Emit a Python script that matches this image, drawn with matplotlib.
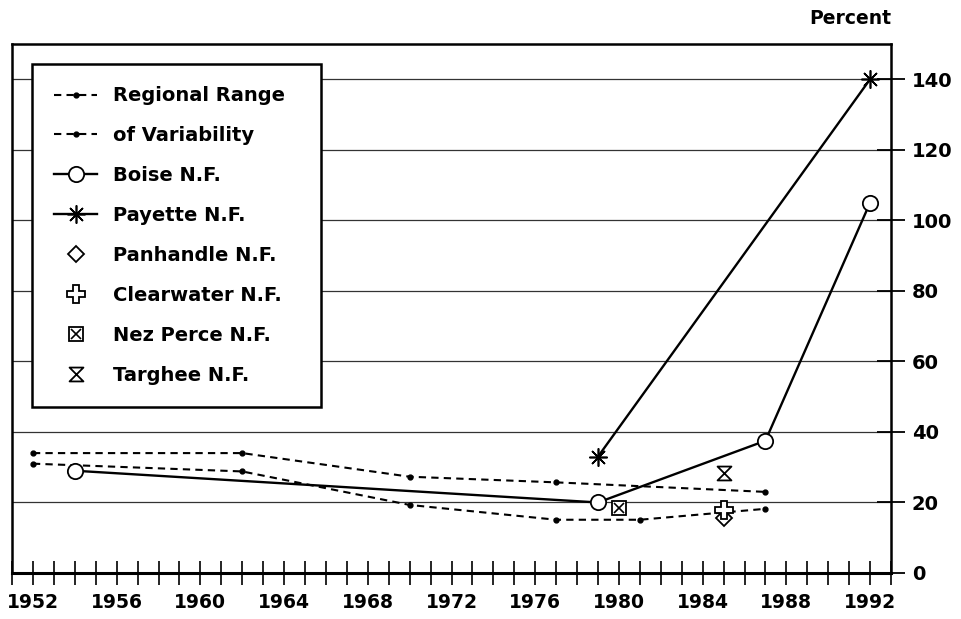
import matplotlib
matplotlib.use("Agg")
import matplotlib.pyplot as plt
from matplotlib.path import Path
from matplotlib.legend_handler import HandlerTuple

# ---- data ----
range_hi_years = [1952, 1962, 1970, 1977, 1987]
range_hi_vals = [34, 34, 27.3, 25.7, 23.0]
range_lo_years = [1952, 1962, 1970, 1977, 1981, 1987]
range_lo_vals = [31, 28.8, 19.3, 15.1, 15.1, 18.2]
boise_years = [1954, 1979, 1987, 1992]
boise_vals = [29, 20, 37.5, 105]
payette_years = [1979, 1992]
payette_vals = [33, 140]
panhandle_years = [1985]
panhandle_vals = [15.5]
clearwater_years = [1985]
clearwater_vals = [18]
nezperce_years = [1980]
nezperce_vals = [18.5]
targhee_years = [1985]
targhee_vals = [28.3]

xtick_labels = [str(y) for y in range(1952, 1993, 4)]
ytick_vals = [0, 20, 40, 60, 80, 100, 120, 140]

plt.rcParams['font.family'] = ['DejaVu Sans']
plt.rcParams['font.weight'] = 'bold'

W, H = 961, 619
fig = plt.figure(figsize=(W / 100, H / 100), dpi=100)
ax = fig.add_axes([12 / W, 1 - 573 / H, (891 - 12) / W, (573 - 44) / H])

hourglass = Path([(-1, 1), (1, 1), (-1, -1), (1, -1), (-1, 1)],
                 [Path.MOVETO, Path.LINETO, Path.LINETO, Path.LINETO, Path.CLOSEPOLY])

dash_kw = dict(color='black', lw=1.5, ls=(0, (3.5, 2.5)), marker='o', ms=3.5)
h_hi, = ax.plot(range_hi_years, range_hi_vals, **dash_kw)
h_lo, = ax.plot(range_lo_years, range_lo_vals, **dash_kw)
h_boise, = ax.plot(boise_years, boise_vals, color='black', lw=1.7, marker='o', ms=11,
                   mfc='white', mec='black', mew=1.3, zorder=4)
h_pay, = ax.plot(payette_years, payette_vals, color='black', lw=1.7, marker=(8, 2, 0),
                 ms=13, mec='black', mew=1.2, zorder=4)
h_pan, = ax.plot(panhandle_years, panhandle_vals, ls='none', marker='D', ms=8,
                 mfc='white', mec='black', mew=1.3, zorder=5)
h_clw, = ax.plot(clearwater_years, clearwater_vals, ls='none', marker='P', ms=13,
                 mfc='white', mec='black', mew=1.3, zorder=6)
h_nz1, = ax.plot(nezperce_years, nezperce_vals, ls='none', marker='s', ms=10,
                 mfc='white', mec='black', mew=1.3, zorder=5)
h_nz2, = ax.plot(nezperce_years, nezperce_vals, ls='none', marker='x', ms=7,
                 mec='black', mew=1.2, zorder=6)
h_tar, = ax.plot(targhee_years, targhee_vals, ls='none', marker=hourglass, ms=10,
                 mfc='white', mec='black', mew=1.3, zorder=5)

ax.set_xlim(1951, 1993)
ax.set_ylim(0, 150)

# ticks
ax.set_xticks(range(1952, 1993, 4))
ax.set_xticklabels(xtick_labels)
ax.set_xticks(range(1951, 1994), minor=True)
ax.tick_params(axis='x', which='both', direction='inout', length=17, width=1.2,
               labelsize=13.5, pad=6)
ax.yaxis.tick_right()
ax.set_yticks(ytick_vals)
ax.tick_params(axis='y', which='both', direction='inout', length=20, width=1.3,
               labelsize=14, pad=5, left=False)
ax.yaxis.grid(True, color='#333333', lw=0.9)
ax.set_axisbelow(True)
for s in ax.spines.values():
    s.set_linewidth(1.8)
ax.spines['bottom'].set_linewidth(2.2)

fig.text(891 / W, 1 - 18 / H, 'Percent', ha='right', va='center', fontsize=13.5,
         fontweight='bold')

handles = [h_hi, h_lo, h_boise, h_pay, h_pan, h_clw, (h_nz1, h_nz2), h_tar]
labels = ['Regional Range', 'of Variability', 'Boise N.F.', 'Payette N.F.',
          'Panhandle N.F.', 'Clearwater N.F.', 'Nez Perce N.F.', 'Targhee N.F.']
leg = ax.legend(handles, labels, loc='upper left', mode='expand',
                bbox_to_anchor=(32 / W, 1 - 408 / H, 289 / W, 344 / H),
                bbox_transform=fig.transFigure,
                borderaxespad=0, fancybox=False, framealpha=1, edgecolor='black',
                fontsize=14, numpoints=1, handlelength=2.2, handletextpad=0.8,
                labelspacing=1.075, borderpad=1.15,
                handler_map={tuple: HandlerTuple(ndivide=1)})
leg.get_frame().set_linewidth(1.8)
leg.set_zorder(10)

fig.savefig('out.png', dpi=100, facecolor='white')
